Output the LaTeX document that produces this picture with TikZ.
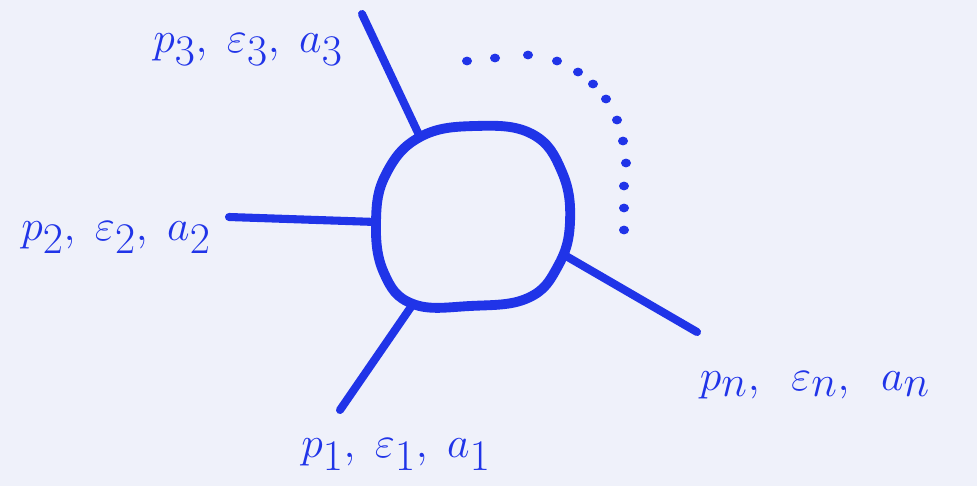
\documentclass[tikz,border=0pt]{standalone}
\usepackage{amsmath,amssymb}
\usepackage{tikz}
\definecolor{inkblue}{RGB}{32,52,232}
\definecolor{paper}{RGB}{239,241,250}
\tikzset{
  loopline/.style = {inkblue,line width=5.6pt,line cap=round,line join=round},
  legline/.style  = {inkblue,line width=4.6pt,line cap=round},
  lbl/.style      = {inkblue,font=\fontsize{33}{38}\selectfont,inner sep=0pt}
}
\begin{document}
\begin{tikzpicture}[x=0.02cm,y=-0.02cm]
  \fill[paper] (0,0) rectangle (977,486);
  \useasboundingbox (0,0) rectangle (977,486);
  % vertices on the loop and free ends of the legs
  \coordinate (v3) at (420,137);  \coordinate (e3) at (362,14);
  \coordinate (v2) at (376,222);  \coordinate (e2) at (229,217);
  \coordinate (v1) at (413,304);  \coordinate (e1) at (340,410);
  \coordinate (vn) at (566,256);  \coordinate (en) at (697,332);
  \draw[loopline] plot[smooth cycle,tension=0.7] coordinates
    {(v3) (475,126) (532,134) (562,172) (570,222) (558,266) (528,298) (470,306) (v1) (384,273) (v2) (386,174)};
  \draw[legline] (v3) -- (e3);
  \draw[legline] (v2) -- (e2);
  \draw[legline] (v1) -- (e1);
  \draw[legline] (vn) -- (en);
  \foreach \px/\py in {467/61,495/58,528/55,557/61,578/72,593/84,606/99,617/120,623/141,626/163,624/186,624/208,624/230}
    \fill[inkblue] (\px,\py) ellipse (5 and 4.4);
  \node[lbl] (l3) at (248,50)  {$p_3,\;\varepsilon_3,\;a_3$};
  \node[lbl] (l2) at (116,238) {$p_2,\;\varepsilon_2,\;a_2$};
  \node[lbl] (l1) at (396,455) {$p_1,\;\varepsilon_1,\;a_1$};
  \node[lbl] (ln) at (815,385) {$p_n,\;\;\varepsilon_n,\;\;a_n$};
\end{tikzpicture}
\end{document}
